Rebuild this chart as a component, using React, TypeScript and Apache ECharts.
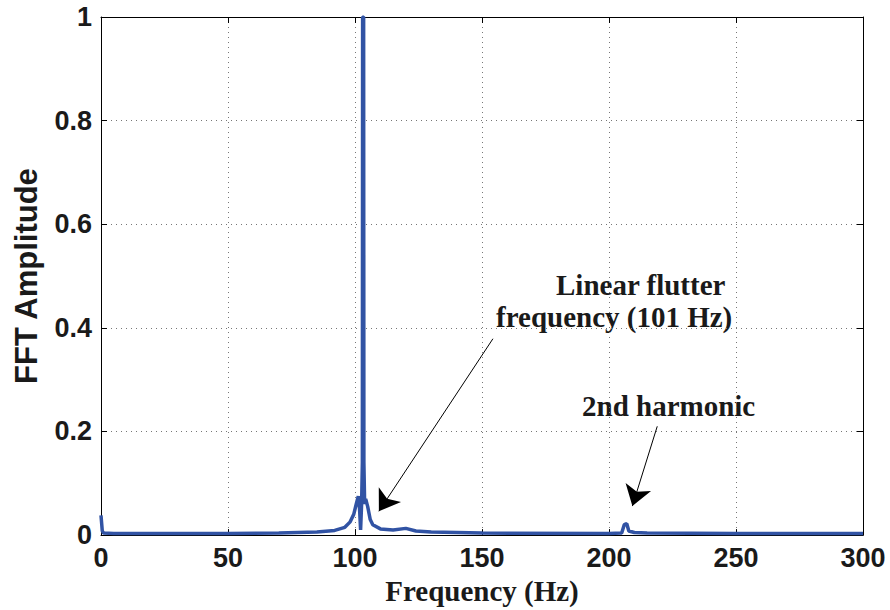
import React, { useEffect, useRef } from "react";
import * as echarts from "echarts";

// Frequency (Hz) and FFT amplitude samples
const freq = [0, 0.5, 1, 5, 20, 50, 70, 85, 92, 96, 98, 99.5, 100.5, 101.3, 101.8, 102.2, 102.6, 102.9, 103.0, 103.4, 103.5, 103.8, 104.2, 105, 106, 107, 110, 115, 120, 124, 130, 150, 200, 205, 206, 207, 207.8, 210, 215, 250, 300];
const amp = [0.038, 0.008, 0.004, 0.003, 0.003, 0.003, 0.004, 0.006, 0.009, 0.015, 0.025, 0.04, 0.06, 0.075, 0.05, 0.01, 0.06, 0.14, 1.0, 1.0, 0.14, 0.06, 0.07, 0.055, 0.03, 0.02, 0.012, 0.01, 0.013, 0.008, 0.006, 0.004, 0.003, 0.004, 0.02, 0.022, 0.008, 0.005, 0.004, 0.003, 0.003];

const xTicks = { min: 0, max: 300, interval: 50 };
const yTicks = { min: 0, max: 1, interval: 0.2 };

// Annotation arrows in data coordinates: [fromX, fromY, toX, toY]
const arrows = [
  [154.3, 0.379, 109.4, 0.046],
  [219, 0.21, 209.2, 0.056],
];

const annotationTexts = ["Linear flutter", "frequency (101 Hz)", "2nd harmonic"];

export default function App() {
  const ref = useRef<HTMLDivElement>(null);
  useEffect(() => {
    if (!ref.current) return;
    const chart = echarts.init(ref.current, undefined, { renderer: "svg" });
    const tickFont = {
      fontFamily: "Liberation Sans, Arial, sans-serif",
      fontWeight: "bold" as const,
      fontSize: 27,
      color: "#1a1a1a",
    };
    const gridLine = { show: true, lineStyle: { color: "#777", type: [1, 4] as any, width: 1 } };
    const annFont = "bold 29px 'Liberation Serif', 'Times New Roman', serif";
    chart.setOption({
      animation: false,
      backgroundColor: "#fff",
      grid: { left: 101, right: 27, top: 17, bottom: 73, containLabel: false },
      xAxis: [
        {
          type: "value",
          ...xTicks,
          position: "bottom",
          name: "Frequency (Hz)",
          nameLocation: "middle",
          nameGap: 37,
          nameTextStyle: {
            fontFamily: "Liberation Serif, Times New Roman, serif",
            fontWeight: "bold",
            fontSize: 29,
            color: "#1a1a1a",
          },
          axisLine: { show: true, onZero: false, lineStyle: { color: "#000", width: 1 } },
          axisTick: { show: true, inside: true, length: 6, lineStyle: { color: "#000" } },
          axisLabel: { ...tickFont, margin: 9 },
          splitLine: gridLine,
        },
        {
          type: "value",
          ...xTicks,
          position: "top",
          axisLine: { show: true, onZero: false, lineStyle: { color: "#000", width: 1 } },
          axisTick: { show: true, inside: true, length: 6, lineStyle: { color: "#000" } },
          axisLabel: { show: false },
          splitLine: { show: false },
        },
      ],
      yAxis: [
        {
          type: "value",
          ...yTicks,
          position: "left",
          name: "FFT Amplitude",
          nameLocation: "middle",
          nameGap: 59,
          nameTextStyle: {
            fontFamily: "Liberation Sans, Arial, sans-serif",
            fontWeight: "bold",
            fontSize: 31,
            color: "#1a1a1a",
          },
          axisLine: { show: true, onZero: false, lineStyle: { color: "#000", width: 1 } },
          axisTick: { show: true, inside: true, length: 6, lineStyle: { color: "#000" } },
          axisLabel: { ...tickFont, margin: 9 },
          splitLine: gridLine,
        },
        {
          type: "value",
          ...yTicks,
          position: "right",
          axisLine: { show: true, onZero: false, lineStyle: { color: "#000", width: 1 } },
          axisTick: { show: true, inside: true, length: 6, lineStyle: { color: "#000" } },
          axisLabel: { show: false },
          splitLine: { show: false },
        },
      ],
      series: [
        {
          type: "line",
          data: freq.map((f, i) => [f, amp[i]]),
          showSymbol: false,
          symbol: "none",
          clip: true,
          lineStyle: { color: "#3153a4", width: 3.5 },
          itemStyle: { color: "#3153a4" },
          markLine: {
            silent: true,
            symbol: ["none", "arrow"],
            symbolSize: 20,
            label: { show: false },
            lineStyle: { color: "#000", width: 1, type: "solid" },
            itemStyle: { color: "#000" },
            data: arrows.map((a) => [
              { coord: [a[0], a[1]], symbol: "none" },
              { coord: [a[2], a[3]], symbol: "arrow" },
            ]),
          },
        },
      ],
      graphic: [
        {
          type: "text",
          left: 556,
          top: 270,
          style: { text: annotationTexts[0], font: annFont, fill: "#1a1a1a" },
        },
        {
          type: "text",
          left: 496,
          top: 302,
          style: { text: annotationTexts[1], font: annFont, fill: "#1a1a1a" },
        },
        {
          type: "text",
          left: 582,
          top: 391,
          style: { text: annotationTexts[2], font: annFont, fill: "#1a1a1a" },
        },
      ],
    });
    return () => chart.dispose();
  }, []);
  return <div ref={ref} style={{ width: 890, height: 610, position: "absolute", left: 0, top: 0 }} />;
}
